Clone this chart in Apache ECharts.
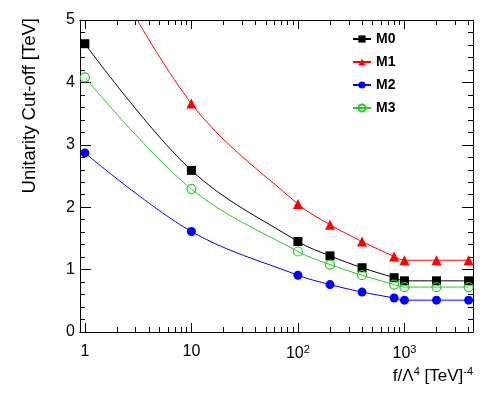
<!DOCTYPE html>
<html>
<head>
<meta charset="utf-8">
<script src="https://cdn.jsdelivr.net/npm/echarts@6/dist/echarts.min.js"></script>
<style>
  html, body { margin: 0; padding: 0; background: #fff; }
  #main { width: 498px; height: 395px; }
</style>
</head>
<body>
<div id="main"></div>
<script>
// f/Lambda^4 values [TeV^-4]
var xValues = [1, 10, 100, 200, 400, 800, 1000, 2000, 4000];
// unitarity cut-off [TeV]
var m0 = [4.62, 2.59, 1.45, 1.22, 1.03, 0.87, 0.82, 0.82, 0.82];
var m1 = [6.51, 3.66, 2.05, 1.72, 1.45, 1.21, 1.15, 1.15, 1.15];
var m2 = [2.87, 1.61, 0.91, 0.76, 0.64, 0.545, 0.51, 0.51, 0.51];
var m3 = [4.08, 2.29, 1.29, 1.08, 0.91, 0.76, 0.72, 0.72, 0.72];
var majorX = [1, 10, 100, 1000];
var minorX = [2, 3, 4, 5, 6, 7, 8, 9, 20, 30, 40, 50, 60, 70, 80, 90,
  200, 300, 400, 500, 600, 700, 800, 900, 2000, 3000, 4000];

var FONT = 'Liberation Sans';

function pairs(ys) {
  var out = [];
  for (var i = 0; i < xValues.length; i++) {
    out.push([xValues[i], ys[i]]);
  }
  return out;
}

function xLabel(v) {
  if (v == 1) return '1';
  if (v == 10) return '10';
  if (v == 100) return '10{sup|2}';
  if (v == 1000) return '10{sup|3}';
  return '';
}

var axisLine = { show: true, onZero: false, lineStyle: { color: '#000', width: 1 } };

function logAxis(pos, ticks, len, withLabels) {
  return {
    type: 'log',
    position: pos,
    min: 0.9,
    max: 4400,
    axisLine: axisLine,
    axisTick: { show: true, inside: true, length: len, customValues: ticks,
      lineStyle: { color: '#000' } },
    axisLabel: withLabels ? {
      show: true, customValues: majorX, margin: 12,
      formatter: xLabel,
      color: '#000', fontFamily: FONT, fontSize: 16,
      rich: {
        sup: { fontSize: 11, fontFamily: FONT, color: '#000', padding: [0, 0, 9, 0] }
      }
    } : { show: false },
    splitLine: { show: false }
  };
}

function valAxis(pos, withLabels) {
  return {
    type: 'value',
    position: pos,
    min: 0,
    max: 5,
    interval: 1,
    axisLine: axisLine,
    axisTick: { show: true, inside: true, length: 11, lineStyle: { color: '#000' } },
    minorTick: { show: true, splitNumber: 5, length: 5, lineStyle: { color: '#000' } },
    axisLabel: withLabels ? {
      show: true, margin: 5, color: '#000', fontFamily: FONT, fontSize: 16
    } : { show: false },
    splitLine: { show: false },
    minorSplitLine: { show: false }
  };
}

var xMain = logAxis('bottom', majorX, 9, true);
xMain.name = 'f/\u039b{sup|4} [TeV]{sup|-4}';
xMain.nameLocation = 'end';
xMain.nameGap = 0;
xMain.nameMoveOverlap = false;
xMain.nameTextStyle = {
  align: 'right', verticalAlign: 'top', padding: [34, 0, 0, 0],
  color: '#000', fontFamily: FONT, fontSize: 17,
  rich: { sup: { fontSize: 11, fontFamily: FONT, color: '#000', padding: [0, 0, 10, 0] } }
};

var yMain = valAxis('left', true);
yMain.name = 'Unitarity Cut-off [TeV]';
yMain.nameLocation = 'end';
yMain.nameRotate = 90;
yMain.nameGap = 2;
yMain.nameMoveOverlap = false;
yMain.nameTextStyle = {
  align: 'right', verticalAlign: 'bottom', padding: [0, 0, 41, 0],
  color: '#000', fontFamily: FONT, fontSize: 18.5
};

function lineSeries(name, ys, color, symbol, size, hollow) {
  return {
    name: name,
    type: 'line',
    xAxisIndex: 0,
    yAxisIndex: 0,
    data: pairs(ys),
    smooth: 0.35,
    symbol: symbol,
    symbolSize: size,
    clip: true,
    lineStyle: { color: color, width: 1 },
    itemStyle: hollow
      ? { color: 'rgba(0,0,0,0)', borderColor: color, borderWidth: 1.2 }
      : { color: color, borderWidth: 0 },
    emphasis: { disabled: true }
  };
}

var chart = echarts.init(document.getElementById('main'), null, { renderer: 'canvas' });
chart.setOption({
  animation: false,
  backgroundColor: '#fff',
  grid: { left: 80, right: 25, top: 20, bottom: 63, containLabel: false },
  legend: {
    orient: 'vertical',
    left: 347,
    top: 27,
    itemWidth: 18,
    itemHeight: 9,
    itemGap: 9,
    textStyle: { fontFamily: FONT, fontSize: 14, fontWeight: 'bold', color: '#000' },
    data: ['M0', 'M1', 'M2', 'M3']
  },
  xAxis: [
    xMain,
    logAxis('top', majorX, 9, false),
    logAxis('bottom', minorX, 5, false),
    logAxis('top', minorX, 5, false)
  ],
  yAxis: [
    yMain,
    valAxis('right', false)
  ],
  series: [
    lineSeries('M0', m0, '#000000', 'rect', 9, false),
    lineSeries('M1', m1, '#ff0000', 'triangle', 10, false),
    lineSeries('M2', m2, '#0000ff', 'circle', 9, false),
    lineSeries('M3', m3, '#22cc22', 'circle', 9, true)
  ]
});
</script>
</body>
</html>
